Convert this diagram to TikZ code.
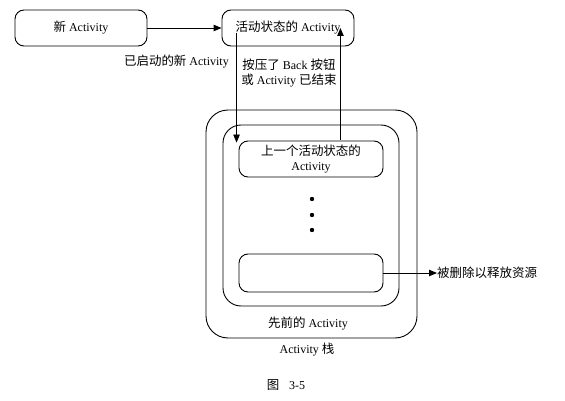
\documentclass[tikz,border=0pt]{standalone}
\usepackage{fontspec}
\setmainfont{Liberation Serif}
\newfontfamily\cjk[Scale=1.04]{Noto Sans CJK SC}
\usetikzlibrary{arrows.meta,calc}
\begin{document}
\begin{tikzpicture}[x=1pt,y=-1pt,
  every node/.style={font=\fontsize{12}{15}\selectfont, inner sep=0pt},
  box/.style={draw, line width=0.9pt, rounded corners=9pt},
  arr/.style={line width=0.9pt, -{Triangle[length=8pt,width=6.5pt]}},
  lbl/.style={align=center}]
\useasboundingbox (0,0) rectangle (565,401);
% top row
\node[box, minimum width=132pt, minimum height=36pt] (new) at (81,28) {{\cjk 新} Activity};
\node[box, minimum width=132pt, minimum height=36pt] (active) at (288,28) {{\cjk 活动状态的} Activity};
\draw[arr] (new.east) -- (active.west);
\node[anchor=east] (started) at (229,62) {{\cjk 已启动的新} Activity};
\node[lbl] (back) at (289,73) {{\cjk 按压了} Back {\cjk 按钮}\\{\cjk 或} Activity {\cjk 已结束}};
% stack
\node[box, rounded corners=22pt, minimum width=211pt, minimum height=228pt] (stack) at (311.5,224) {};
\node[box, rounded corners=18pt, minimum width=176pt, minimum height=181pt] (prevs) at (311,215.5) {};
\node[box, minimum width=144pt, minimum height=36pt, lbl] (prev) at (311,159) {{\cjk 上一个活动状态的}\\Activity};
\node[box, minimum width=144pt, minimum height=38pt] (last) at (311,273) {};
\foreach \yy/\nm in {199/d1,215/d2,230/d3}
  \fill (312,\yy) circle (2.2pt) coordinate (\nm);
\node (prevlbl) at (308,324) {{\cjk 先前的} Activity};
\node (stacklbl) at (307,350) {Activity {\cjk 栈}};
\node (fig) at (286,385) {{\cjk 图}\hspace{10pt}3-5};
% arrows between active and previous
\draw[arr] ($(active.west)+(15,5)$) -- ($(prev.north west)+(-2,2)$);
\draw[arr] ($(prev.north east)+(-43,-1)$) -- ($(active.east)+(-14,0)$);
% removal
\node[anchor=west] (removed) at (437,273) {{\cjk 被删除以释放资源}};
\draw[arr] (last.east) -- (removed.west);
\end{tikzpicture}
\end{document}
